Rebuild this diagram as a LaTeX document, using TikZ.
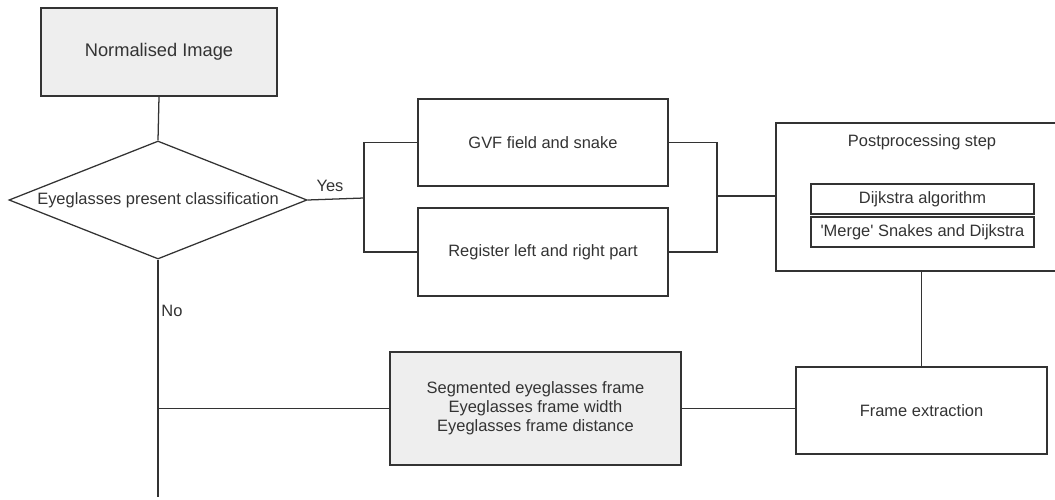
\documentclass[tikz,border=0pt]{standalone}
\usepackage{fontspec}
\setmainfont{Liberation Sans}[Ligatures=TeXOff]
\usepackage{tikz}
\usetikzlibrary{shapes.geometric}
\definecolor{linegray}{HTML}{333333}
\definecolor{fillgray}{HTML}{EEEEEE}
\begin{document}
\begin{tikzpicture}[x=0.025cm,y=-0.025cm,
  every node/.style={font=\fontsize{11.7}{13.6}\selectfont,text=linegray},
  box/.style={draw=linegray,line width=0.9pt,inner sep=0pt,align=center},
  graybox/.style={box,fill=fillgray},
  decision/.style={draw=linegray,line width=0.9pt,diamond,aspect=2.525,inner sep=0pt,
    minimum width=7.45cm,minimum height=2.95cm},
  link/.style={draw=linegray,line width=0.9pt}]
\useasboundingbox (0,0) rectangle (1055,500);
\clip (0,0) rectangle (1055,500);
% Input
\node[graybox,minimum width=5.9cm,minimum height=2.2cm,font=\fontsize{13}{15}\selectfont] (norm) at (159,52) {Normalised Image};
% Classification
\node[decision] (cls) at (158,200) {Eyeglasses present classification};
% Two branches
\node[box,minimum width=6.25cm,minimum height=2.175cm] (gvf) at (543,142.5) {GVF field and snake};
\node[box,minimum width=6.25cm,minimum height=2.2cm] (reg) at (543,252) {Register left and right part};
% Postprocessing step
\node[box,minimum width=7.05cm,minimum height=3.7cm] (post) at (917,197) {};
\node (posttitle) at (922,142) {Postprocessing step};
\node[box,minimum width=5.575cm,minimum height=0.75cm] (dijk) at (922.5,199) {Dijkstra algorithm};
\node[box,minimum width=5.575cm,minimum height=0.75cm] (merge) at (922.5,232) {'Merge' Snakes and Dijkstra};
% Frame extraction and result
\node[box,minimum width=6.275cm,minimum height=2.175cm] (frame) at (921.5,410.5) {Frame extraction};
\node[graybox,minimum width=7.275cm,minimum height=2.825cm] (out) at (535.5,408.5)
  {Segmented eyeglasses frame\\Eyeglasses frame width\\Eyeglasses frame distance};
% Junctions
\coordinate (jl) at (364,198);
\coordinate (jr) at (717,196);
\coordinate (noend) at (158,497);
% Labels
\node (yes) at (330,186) {Yes};
\node (no) at (172,311) {No};
% Connect the boxes
\draw[link] (norm.south) -- (cls.north);
\draw[link] (cls.east) -- (jl);
\draw[link] (gvf.west) -| (jl) |- (reg.west);
\draw[link] (gvf.east) -| (jr) |- (reg.east);
\draw[link] (jr) -- (jr -| post.west);
\draw[link] (frame.north |- post.south) -- (frame.north);
\draw[link] (out.east) -- (out.east -| frame.west);
\draw[link] (out.west) -- (out.west -| cls.south);
\draw[link] (cls.south) -- (noend);
\end{tikzpicture}
\end{document}
